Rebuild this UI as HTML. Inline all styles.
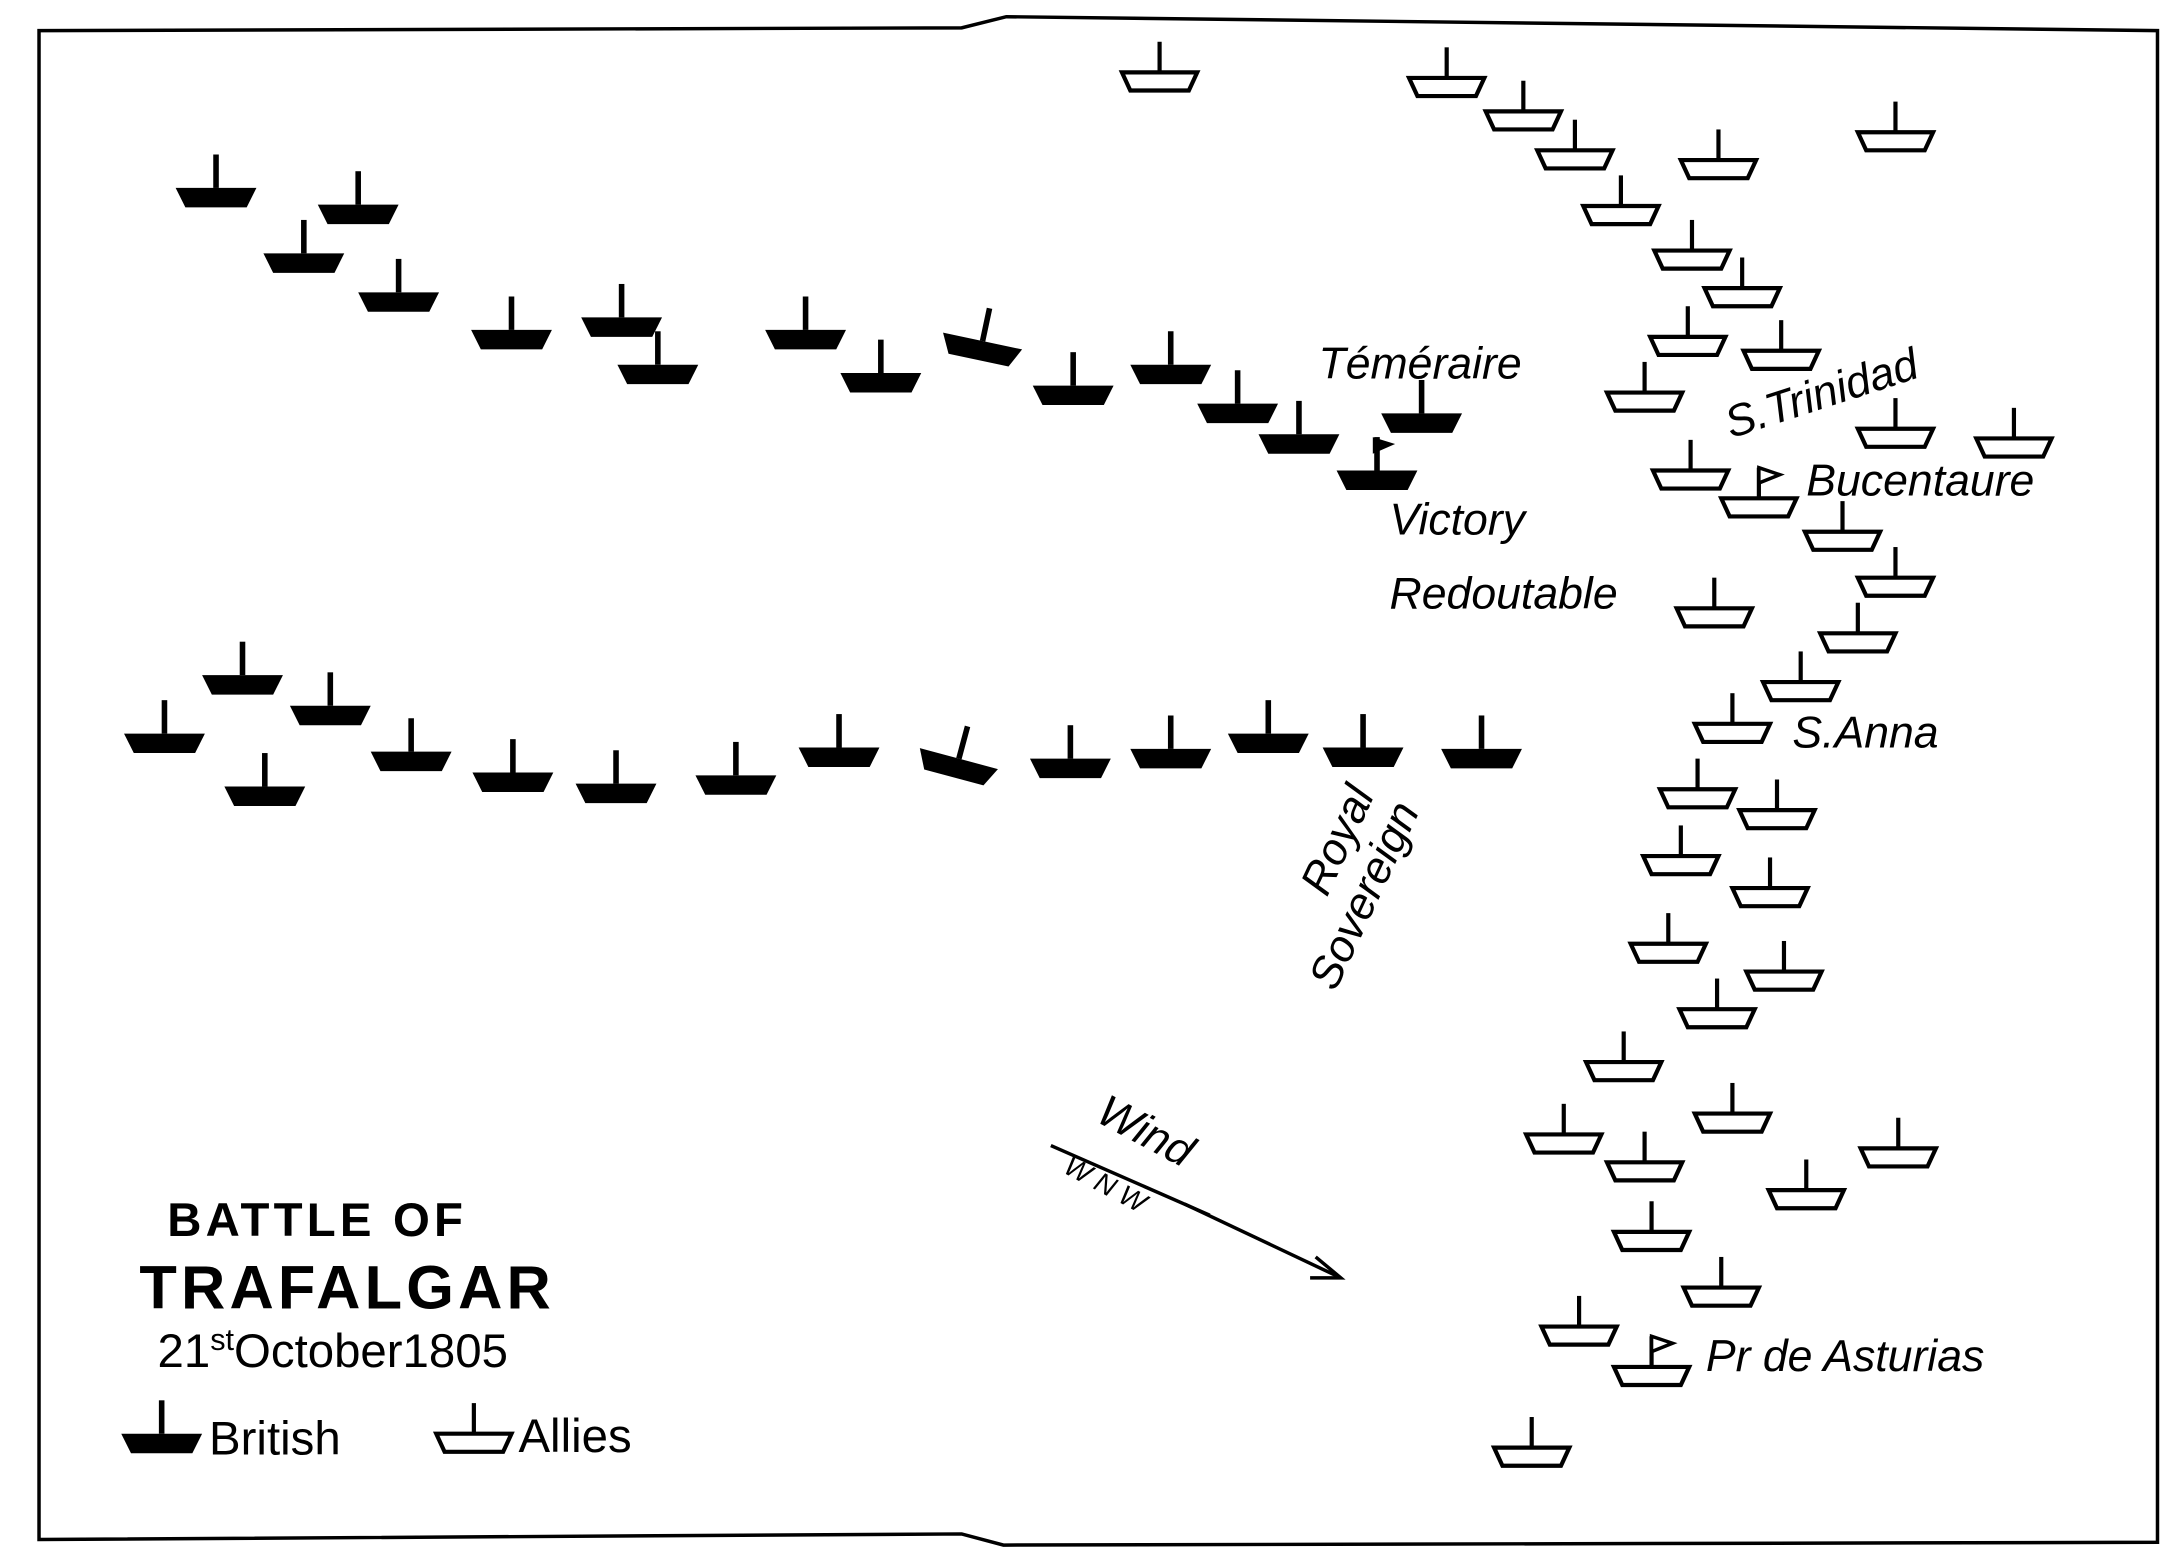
<!DOCTYPE html>
<html><head><meta charset="utf-8"><style>
html,body{margin:0;padding:0;background:#fff}
svg{display:block}
text{font-family:"Liberation Sans",sans-serif;fill:#000}
.lbl{font-style:italic;font-size:32px}
</style></head><body>
<svg width="2177" height="1559" viewBox="0 0 1562 1120" preserveAspectRatio="none" xmlns="http://www.w3.org/2000/svg">
<defs>
<g id="b"><polygon points="-29,0 29,0 22,14 -22,14" fill="#000"/><line x1="0" y1="-24" x2="0" y2="0" stroke="#000" stroke-width="4"/></g>
<g id="a"><polygon points="-27,0 27,0 21,13 -21,13" fill="#fff" stroke="#000" stroke-width="3"/><line x1="0" y1="-22" x2="0" y2="0" stroke="#000" stroke-width="3"/></g>
</defs>
<path d="M28,22 L690,20 L722,12 L1548,22 L1548,1108 L720,1110 L690,1102 L28,1106 Z" fill="none" stroke="#000" stroke-width="2.5"/>
<g>
<use href="#b" x="155" y="135"/><use href="#b" x="257" y="147"/><use href="#b" x="218" y="182"/><use href="#b" x="286" y="210"/><use href="#b" x="367" y="237"/><use href="#b" x="446" y="228"/><use href="#b" x="472" y="262"/><use href="#b" x="578" y="237"/><use href="#b" x="632" y="268"/><use href="#b" x="770" y="277"/><use href="#b" x="840" y="262"/><use href="#b" x="888" y="290"/><use href="#b" x="932" y="312"/><use href="#b" x="1020" y="297"/><use href="#b" x="988" y="338"/>
<use href="#b" transform="translate(705,245) rotate(12)"/>
<use href="#b" x="174" y="485"/><use href="#b" x="118" y="527"/><use href="#b" x="237" y="507"/><use href="#b" x="190" y="565"/><use href="#b" x="295" y="540"/><use href="#b" x="368" y="555"/><use href="#b" x="442" y="563"/><use href="#b" x="528" y="557"/><use href="#b" x="602" y="537"/><use href="#b" x="768" y="545"/><use href="#b" x="840" y="538"/><use href="#b" x="910" y="527"/><use href="#b" x="978" y="537"/><use href="#b" x="1063" y="538"/>
<use href="#b" transform="translate(688,545) rotate(15)"/>
<polygon points="985,314 1001,319 985,326" fill="#000"/>
</g>
<g>
<use href="#a" x="832" y="52"/><use href="#a" x="1038" y="56"/><use href="#a" x="1093" y="80"/><use href="#a" x="1130" y="108"/><use href="#a" x="1233" y="115"/><use href="#a" x="1360" y="95"/><use href="#a" x="1163" y="148"/><use href="#a" x="1214" y="180"/><use href="#a" x="1250" y="207"/><use href="#a" x="1211" y="242"/><use href="#a" x="1278" y="252"/><use href="#a" x="1180" y="282"/><use href="#a" x="1360" y="308"/><use href="#a" x="1445" y="315"/><use href="#a" x="1213" y="338"/><use href="#a" x="1262" y="358"/><use href="#a" x="1322" y="382"/><use href="#a" x="1360" y="415"/><use href="#a" x="1230" y="437"/><use href="#a" x="1333" y="455"/><use href="#a" x="1292" y="490"/><use href="#a" x="1243" y="520"/><use href="#a" x="1218" y="567"/><use href="#a" x="1275" y="582"/><use href="#a" x="1206" y="615"/><use href="#a" x="1270" y="638"/><use href="#a" x="1197" y="678"/><use href="#a" x="1280" y="698"/><use href="#a" x="1232" y="725"/><use href="#a" x="1165" y="763"/><use href="#a" x="1243" y="800"/><use href="#a" x="1122" y="815"/><use href="#a" x="1180" y="835"/><use href="#a" x="1296" y="855"/><use href="#a" x="1362" y="825"/><use href="#a" x="1185" y="885"/><use href="#a" x="1235" y="925"/><use href="#a" x="1133" y="953"/><use href="#a" x="1185" y="982"/><use href="#a" x="1099" y="1040"/>
<polygon points="1262,336 1277,341 1262,347" fill="#fff" stroke="#000" stroke-width="2.5"/>
<polygon points="1185,960 1200,965 1185,971" fill="#fff" stroke="#000" stroke-width="2.5"/>
</g>
<text class="lbl" x="946" y="272">Téméraire</text>
<text class="lbl" x="1242" y="315" transform="rotate(-18 1242 315)">S.Trinidad</text>
<text class="lbl" x="1296" y="356">Bucentaure</text>
<text class="lbl" x="997" y="384" font-size="34">Victory</text>
<text class="lbl" x="997" y="437" font-size="34">Redoutable</text>
<text class="lbl" x="1286" y="537">S.Anna</text>
<text class="lbl" x="952" y="645" transform="rotate(-65 952 645)">Royal</text>
<text class="lbl" x="958" y="713" transform="rotate(-65 958 713)">Sovereign</text>
<text class="lbl" x="1224" y="985">Pr de Asturias</text>
<text class="lbl" x="785" y="805" font-size="28" transform="rotate(28 785 805)">Wind</text>
<line x1="754" y1="823" x2="868" y2="873" stroke="#000" stroke-width="2.5"/>
<text x="762" y="842" font-size="20" font-style="italic" transform="rotate(28 762 842)">W N W</text>
<line x1="850" y1="865" x2="962" y2="918" stroke="#000" stroke-width="2.5"/>
<polyline points="944,903 962,918 940,918" fill="none" stroke="#000" stroke-width="2.5"/>
<text x="120" y="888" font-size="34" font-weight="bold" letter-spacing="3">BATTLE  OF</text>
<text x="100" y="940" font-size="44" font-weight="bold" letter-spacing="3">TRAFALGAR</text>
<text x="113" y="982" font-size="34">21<tspan font-size="22" dy="-12">st</tspan><tspan dy="12">October1805</tspan></text>
<use href="#b" x="116" y="1030"/>
<text x="150" y="1045" font-size="34">British</text>
<use href="#a" x="340" y="1030"/>
<text x="372" y="1043" font-size="34">Allies</text>
</svg>
</body></html>
